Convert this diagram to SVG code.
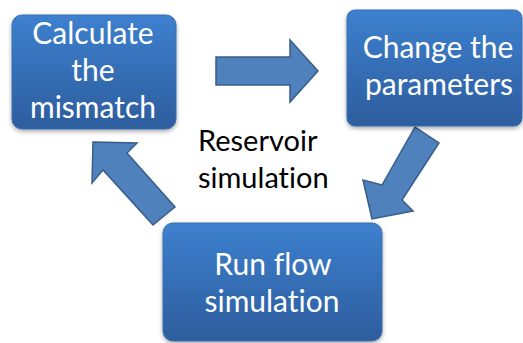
<svg xmlns="http://www.w3.org/2000/svg" width="523" height="343" viewBox="0 0 523 343">
  <defs>
    <linearGradient id="boxGrad" x1="0" y1="0" x2="0" y2="1">
      <stop offset="0" stop-color="#3d80cf"/>
      <stop offset="1" stop-color="#2d5d9d"/>
    </linearGradient>
    <filter id="shadow" x="-10%" y="-10%" width="120%" height="130%">
      <feDropShadow dx="0" dy="2" stdDeviation="2" flood-color="#000" flood-opacity="0.35"/>
    </filter>
  </defs>
  <style>
    .box { fill: url(#boxGrad); stroke: #3a6eb0; stroke-width: 1; filter: url(#shadow); }
    .arrow { fill: #4f81bd; stroke: #385d8a; stroke-width: 1.5; stroke-linejoin: miter; }
    .wt { fill: #ffffff; font-family: Lato, "Open Sans", "Liberation Sans", sans-serif; font-size: 30px; text-anchor: middle; font-variant-ligatures: none; }
    .bt { fill: #000000; font-family: Lato, "Open Sans", "Liberation Sans", sans-serif; font-size: 29px; text-anchor: start; font-variant-ligatures: none; }
  </style>
  <rect width="523" height="343" fill="#ffffff"/>
  <g id="connectors">
    <polygon class="arrow" points="216,57 290,57 290,40 318,71 290,102 290,85 216,85"/>
    <polygon class="arrow" points="372,219 363,180 382,185 415,127 439,143 402,200 413,211"/>
    <polygon class="arrow" points="93,142 137,143 127,153 175,207 153,225 103,170 92,183"/>
  </g>
  <g id="node-calculate">
    <rect class="box" x="12" y="15" width="164" height="114" rx="10" ry="10"/>
    <text class="wt" x="93" y="44">Calculate</text>
    <text class="wt" x="93" y="81">the</text>
    <text class="wt" x="93" y="118">mismatch</text>
  </g>
  <g id="node-change">
    <rect class="box" x="347" y="10" width="175" height="116" rx="8" ry="8"/>
    <text class="wt" x="438" y="58">Change the</text>
    <text class="wt" x="439" y="95">parameters</text>
  </g>
  <g id="node-run">
    <rect class="box" x="163" y="223" width="219" height="118" rx="10" ry="10"/>
    <text class="wt" x="273" y="275">Run flow</text>
    <text class="wt" x="272" y="312">simulation</text>
  </g>
  <g id="label-center">
    <text class="bt" x="198" y="151">Reservoir</text>
    <text class="bt" x="198" y="188">simulation</text>
  </g>
</svg>
